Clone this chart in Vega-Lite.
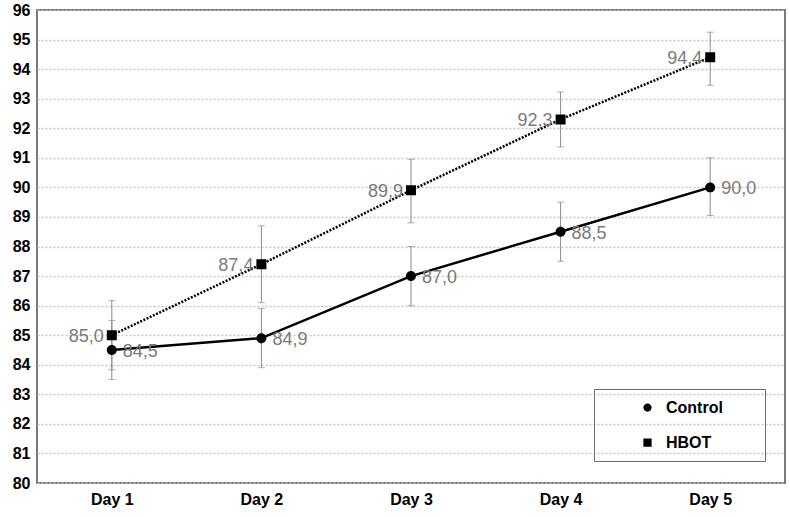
{
  "$schema": "https://vega.github.io/schema/vega-lite/v6.json",
  "autosize": "none",
  "width": 748,
  "height": 473,
  "padding": {"left": 37, "top": 10, "right": 5, "bottom": 34},
  "background": "white",
  "config": {
    "view": {"stroke": "#7a7a7a", "strokeWidth": 2},
    "font": "Liberation Sans",
    "axisY": {
      "title": null, "labelOverlap": false,
      "domain": false, "ticks": false, "grid": true,
      "gridColor": "#c4c4c4", "gridDash": [2, 2], "gridWidth": 1.5,
      "labelFont": "Liberation Sans", "labelFontSize": 16, "labelFontWeight": "bold",
      "labelColor": "#000000", "labelPadding": 7
    }
  },
  "data": {
    "values": [
      {"day": "Day 1", "group": "Control", "value": 84.5, "lo": 83.5, "hi": 85.5, "label": "84,5"},
      {"day": "Day 2", "group": "Control", "value": 84.9, "lo": 83.9, "hi": 85.9, "label": "84,9"},
      {"day": "Day 3", "group": "Control", "value": 87.0, "lo": 86.0, "hi": 88.0, "label": "87,0"},
      {"day": "Day 4", "group": "Control", "value": 88.5, "lo": 87.5, "hi": 89.5, "label": "88,5"},
      {"day": "Day 5", "group": "Control", "value": 90.0, "lo": 89.05, "hi": 91.0, "label": "90,0"},
      {"day": "Day 1", "group": "HBOT", "value": 85.0, "lo": 83.83, "hi": 86.17, "label": "85,0"},
      {"day": "Day 2", "group": "HBOT", "value": 87.4, "lo": 86.1, "hi": 88.7, "label": "87,4"},
      {"day": "Day 3", "group": "HBOT", "value": 89.9, "lo": 88.8, "hi": 90.95, "label": "89,9"},
      {"day": "Day 4", "group": "HBOT", "value": 92.3, "lo": 91.37, "hi": 93.23, "label": "92,3"},
      {"day": "Day 5", "group": "HBOT", "value": 94.4, "lo": 93.45, "hi": 95.25, "label": "94,4"}
    ]
  },
  "encoding": {
    "x": {
      "field": "day", "type": "ordinal",
      "scale": {"type": "point", "padding": 0.5},
      "axis": {
        "title": null, "labelAngle": 0, "domain": false, "ticks": false,
        "labelFont": "Liberation Sans", "labelFontSize": 16, "labelFontWeight": "bold",
        "labelColor": "#000000", "labelPadding": 8
      }
    },
    "y": {
      "field": "value", "type": "quantitative",
      "scale": {"domain": [80, 96], "nice": false, "zero": false},
      "axis": {"title": null, "values": [80,81,82,83,84,85,86,87,88,89,90,91,92,93,94,95,96]}
    }
  },
  "layer": [
    {
      "mark": {"type": "rule", "color": "#8a8a8a", "strokeWidth": 1},
      "encoding": {
        "y": {"field": "lo", "type": "quantitative", "axis": {"title": null, "values": [80,81,82,83,84,85,86,87,88,89,90,91,92,93,94,95,96]}},
        "y2": {"field": "hi"}
      }
    },
    {
      "mark": {"type": "tick", "color": "#8a8a8a", "thickness": 1, "size": 7},
      "encoding": {"y": {"field": "lo", "type": "quantitative", "axis": {"title": null, "values": [80,81,82,83,84,85,86,87,88,89,90,91,92,93,94,95,96]}}}
    },
    {
      "mark": {"type": "tick", "color": "#8a8a8a", "thickness": 1, "size": 7},
      "encoding": {"y": {"field": "hi", "type": "quantitative", "axis": {"title": null, "values": [80,81,82,83,84,85,86,87,88,89,90,91,92,93,94,95,96]}}}
    },
    {
      "transform": [{"filter": "datum.group === 'Control'"}],
      "mark": {"type": "line", "color": "#000000", "strokeWidth": 2.5},
      "encoding": {}
    },
    {
      "transform": [{"filter": "datum.group === 'HBOT'"}],
      "mark": {"type": "line", "color": "#000000", "strokeWidth": 2.5, "strokeDash": [2, 1.5]},
      "encoding": {}
    },
    {
      "mark": {"type": "point", "filled": true, "color": "#000000", "opacity": 1, "size": 330},
      "encoding": {
        "shape": {
          "field": "group", "type": "nominal",
          "scale": {
            "domain": ["Control", "HBOT"],
            "range": [
              "M-2,0H2M0.55,0A0.55,0.55 0 1,1 -0.55,0A0.55,0.55 0 1,1 0.55,0ZM13.8,0",
              "M-2,0H-1.75M-1.5,0H-1.25M-1,0H-0.75M0.75,0H1M1.25,0H1.5M1.75,0H2M-0.55,-0.55H0.55V0.55H-0.55ZM13.8,0"
            ]
          },
          "legend": {
            "title": null,
            "orient": "none",
            "legendX": 557,
            "legendY": 379,
            "padding": 10,
            "strokeColor": "#6f6f6f",
            "symbolSize": 225,
            "symbolOffset": 35,
            "symbolStrokeColor": "#000000",
            "symbolStrokeWidth": 2,
            "symbolFillColor": "#000000",
            "labelOffset": 10,
            "rowPadding": 18,
            "labelFont": "Liberation Sans",
            "labelFontSize": 16,
            "labelFontWeight": "bold",
            "labelColor": "#000000",
            "encode": {
              "legend": {"strokeWidth": {"value": 1.5}},
              "symbols": {
                "stroke": {"value": "#000000"},
                "strokeWidth": {"value": 2}
              }
            }
          }
        }
      }
    },
    {
      "transform": [{"filter": "datum.group === 'Control'"}],
      "mark": {"type": "text", "align": "left", "baseline": "middle", "dx": 11, "dy": 2, "fontSize": 18, "color": "#7a7a7a", "font": "Liberation Sans"},
      "encoding": {
        "text": {"field": "label"}
      }
    },
    {
      "transform": [{"filter": "datum.group === 'HBOT'"}],
      "mark": {"type": "text", "align": "right", "baseline": "middle", "dx": -8, "dy": 2, "fontSize": 18, "color": "#7a7a7a", "font": "Liberation Sans"},
      "encoding": {
        "text": {"field": "label"}
      }
    }
  ]
}
